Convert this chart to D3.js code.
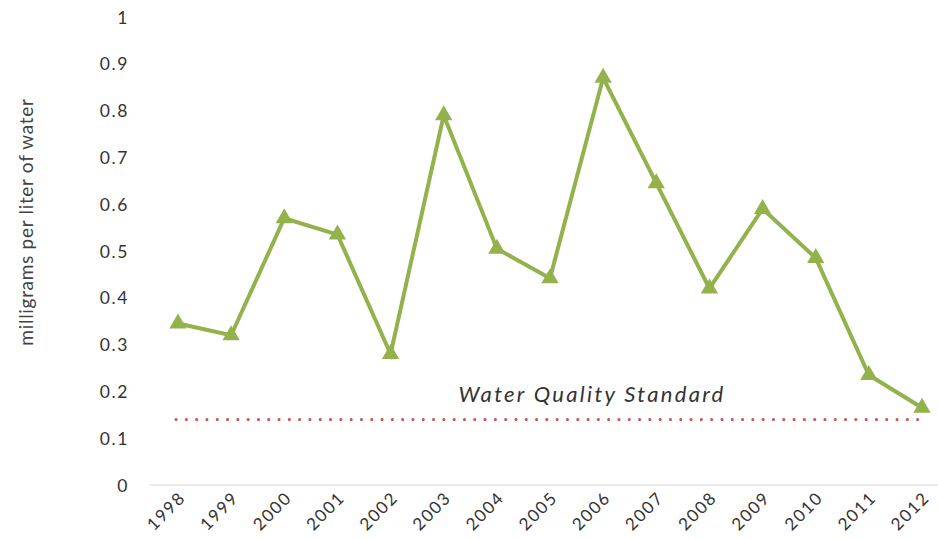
<!DOCTYPE html>
<html>
<head>
<meta charset="utf-8">
<script src="https://cdn.jsdelivr.net/npm/d3@7"></script>
<style>
  body { margin: 0; background: #fff; }
  text { font-family: Lato, "Open Sans", sans-serif; }
</style>
</head>
<body>
<svg id="chart" width="938" height="539"></svg>
<script>
// values
var years = ["1998","1999","2000","2001","2002","2003","2004","2005","2006","2007","2008","2009","2010","2011","2012"];
var concentration = [0.345, 0.32, 0.57, 0.535, 0.28, 0.79, 0.505, 0.442, 0.87, 0.645, 0.42, 0.59, 0.485, 0.235, 0.165];
var yTicks = [0, 0.1, 0.2, 0.3, 0.4, 0.5, 0.6, 0.7, 0.8, 0.9, 1];
var standardValue = 0.14;
var standardLabel = "Water Quality Standard";
var yTitle = "milligrams per liter of water";

var svg = d3.select("#chart");
var GREEN = "#93b24c";

var x = d3.scalePoint()
  .domain(years)
  .range([178, 922]);

var y = d3.scaleLinear()
  .domain([0, 1])
  .range([485, 17]);

// baseline
svg.append("line")
  .attr("x1", 150).attr("x2", 938)
  .attr("y1", y(0)).attr("y2", y(0))
  .attr("stroke", "#d8d3d3").attr("stroke-width", 1.2);

// y tick labels
var yAxis = d3.axisLeft(y)
  .tickValues(yTicks)
  .tickSize(0)
  .tickPadding(0)
  .tickFormat(function (d) { return d === 0 || d === 1 ? String(d) : d3.format(".1f")(d); });

var gy = svg.append("g")
  .attr("transform", "translate(129,0)")
  .call(yAxis);
gy.select(".domain").remove();
gy.selectAll("text")
  .attr("font-size", 17.5)
  .attr("letter-spacing", 1.6)
  .attr("fill", "#333")
  .attr("dy", "0.35em");

// x tick labels, rotated
var xAxis = d3.axisBottom(x).tickSize(0).tickPadding(0);
var gx = svg.append("g")
  .attr("transform", "translate(0," + (y(0) + 12) + ")")
  .call(xAxis);
gx.select(".domain").remove();
gx.selectAll("text")
  .attr("font-size", 17)
  .attr("letter-spacing", 1.6)
  .attr("fill", "#333")
  .attr("text-anchor", "end")
  .attr("dy", 0)
  .attr("y", 0)
  .attr("transform", "translate(8,2) rotate(-45)");

// y title
svg.append("text")
  .attr("transform", "translate(33,222) rotate(-90)")
  .attr("text-anchor", "middle")
  .attr("font-size", 19)
  .attr("letter-spacing", 0.7)
  .attr("fill", "#444")
  .text(yTitle);

// standard line
svg.append("line")
  .attr("x1", 176).attr("x2", 919)
  .attr("y1", y(standardValue)).attr("y2", y(standardValue))
  .attr("stroke", "#d64b4b")
  .attr("stroke-width", 3)
  .attr("stroke-linecap", "round")
  .attr("stroke-dasharray", "0.1 10.2");

svg.append("text")
  .attr("x", 592)
  .attr("y", 402)
  .attr("text-anchor", "middle")
  .attr("font-size", 22)
  .attr("font-style", "italic")
  .attr("fill", "#333")
  .attr("letter-spacing", 2.3)
  .text(standardLabel);

// series line
var line = d3.line()
  .x(function (d, i) { return x(years[i]); })
  .y(function (d) { return y(d); });

svg.append("path")
  .datum(concentration)
  .attr("fill", "none")
  .attr("stroke", GREEN)
  .attr("stroke-width", 4)
  .attr("stroke-linejoin", "miter")
  .attr("d", line);

// triangle markers
var tri = d3.symbol().type(d3.symbolTriangle).size(130);
svg.append("g")
  .selectAll("path")
  .data(concentration)
  .join("path")
  .attr("d", tri)
  .attr("fill", GREEN)
  .attr("transform", function (d, i) { return "translate(" + x(years[i]) + "," + y(d) + ")"; });
</script>
</body>
</html>
